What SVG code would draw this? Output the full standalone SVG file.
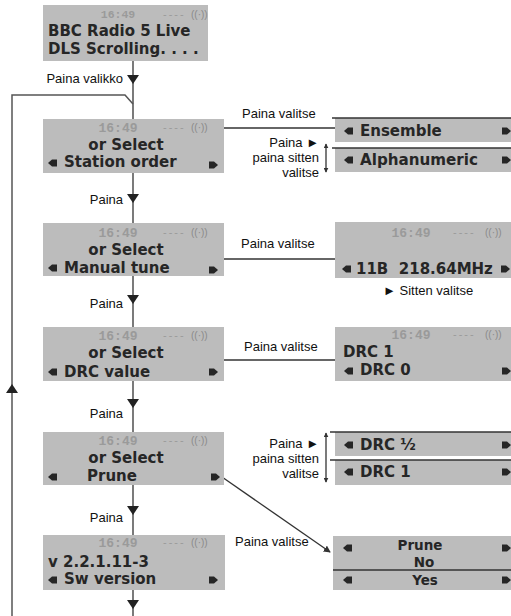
<svg xmlns="http://www.w3.org/2000/svg" width="511" height="616" viewBox="0 0 511 616">
<style>
.bx{fill:#bcbcbc}
.lcd{font-family:"DejaVu Sans",sans-serif;font-weight:bold;font-size:15px;fill:#262626}
.sm{font-size:13.5px}
.tm{font-family:"Liberation Mono",monospace;font-weight:bold;font-size:13px;fill:#9a9a9a;text-anchor:middle}
.ds{font-family:"Liberation Sans",sans-serif;font-size:11px;fill:#9a9a9a;letter-spacing:2px}
.ic{font-family:"Liberation Sans",sans-serif;font-size:10px;fill:#8a8a8a}
.lb{font-family:"Liberation Sans",Arial,sans-serif;font-size:13px;fill:#111}
.r{text-anchor:end}
.m{text-anchor:middle}
.ln{stroke:#333;stroke-width:1.3;fill:none}
.bd{stroke:#333;stroke-width:1.6;fill:none}
.ah{fill:#222}
</style>
<defs>
<path id="la" d="M0 0 L4 -3.5 H9 V3.5 H4 Z" fill="#262626"/>
<path id="ra" d="M0 0 L-4 -3.5 H-9 V3.5 H-4 Z" fill="#262626"/>
<marker id="tip" viewBox="0 0 8 8" refX="7" refY="4" markerWidth="7" markerHeight="7" orient="auto-start-reverse" markerUnits="userSpaceOnUse">
<path d="M0 0 L8 4 L0 8 Z" fill="#333"/>
</marker>
<marker id="sm" viewBox="0 0 8 8" refX="7" refY="4" markerWidth="5" markerHeight="5" orient="auto-start-reverse" markerUnits="userSpaceOnUse">
<path d="M0 0 L8 4 L0 8 Z" fill="#333"/>
</marker>
</defs>

<g id="connectors">
<path class="ln" d="M133 61 V616"/>
<path d="M12 616 V95 H125 L133 104" fill="none" stroke="#555" stroke-width="1.5"/>
<path class="ah" d="M127 75 H139 L133 84 Z"/>
<path class="ah" d="M127 194 H139 L133 203 Z"/>
<path class="ah" d="M127 295 H139 L133 304 Z"/>
<path class="ah" d="M127 399 H139 L133 408 Z"/>
<path class="ah" d="M127 506 H139 L133 515 Z"/>
<path class="ah" d="M127 600 H139 L133 609 Z"/>
<path class="ah" d="M6 393 H18 L12 384 Z"/>
<path class="ln" d="M224 128 H335"/>
<path class="ln" d="M224 259 H335"/>
<path class="ln" d="M224 360 H335"/>
<path class="ln" d="M222 477 L330 552" marker-end="url(#tip)"/>
<path class="ln" d="M326 144 V172" marker-start="url(#sm)" marker-end="url(#sm)"/>
<path class="ln" d="M326 433 V482" marker-start="url(#sm)" marker-end="url(#sm)"/>
<text class="lb r" x="123" y="83">Paina valikko</text>
<text class="lb r" x="123" y="204">Paina</text>
<text class="lb r" x="123" y="308">Paina</text>
<text class="lb r" x="123" y="418">Paina</text>
<text class="lb r" x="123" y="522">Paina</text>
<text class="lb" x="242" y="118">Paina valitse</text>
<text class="lb" x="241" y="248">Paina valitse</text>
<text class="lb" x="244" y="351">Paina valitse</text>
<text class="lb" x="235" y="546">Paina valitse</text>
<text class="lb r" x="319" y="147">Paina ►</text>
<text class="lb r" x="319" y="162">paina sitten</text>
<text class="lb r" x="319" y="177">valitse</text>
<text class="lb r" x="319" y="448">Paina ►</text>
<text class="lb r" x="319" y="463">paina sitten</text>
<text class="lb r" x="319" y="478">valitse</text>
<text class="lb" x="383" y="295">► Sitten valitse</text>
</g>

<g id="n1">
<rect class="bx" x="43" y="5" width="165" height="56"/>
<text class="tm" x="118" y="18" style="font-size:11.5px">16:49</text>
<text class="ds" x="163" y="18">----</text>
<text class="ic" x="191" y="18">((·))</text>
<text class="lcd" x="48" y="36">BBC Radio 5 Live</text>
<text class="lcd" x="48" y="54">DLS Scrolling. . . .</text>
</g>

<g id="n2">
<rect class="bx" x="43" y="119" width="181" height="54"/>
<text class="tm" x="118" y="132">16:49</text>
<text class="ds" x="163" y="131">----</text>
<text class="ic" x="191" y="131">((·))</text>
<text class="lcd m" x="126" y="150">or Select</text>
<use href="#la" x="48" y="163"/>
<text class="lcd" x="64" y="167">Station order</text>
<use href="#ra" x="218" y="165"/>
</g>

<g id="n3">
<rect class="bx" x="43" y="223" width="181" height="53"/>
<text class="tm" x="118" y="237">16:49</text>
<text class="ds" x="163" y="236">----</text>
<text class="ic" x="191" y="236">((·))</text>
<text class="lcd m" x="126" y="255">or Select</text>
<use href="#la" x="48" y="268"/>
<text class="lcd" x="64" y="273">Manual tune</text>
<use href="#ra" x="218" y="270"/>
</g>

<g id="n4">
<rect class="bx" x="43" y="327" width="181" height="54"/>
<text class="tm" x="118" y="340">16:49</text>
<text class="ds" x="163" y="339">----</text>
<text class="ic" x="191" y="339">((·))</text>
<text class="lcd m" x="126" y="358">or Select</text>
<use href="#la" x="48" y="372"/>
<text class="lcd" x="64" y="377">DRC value</text>
<use href="#ra" x="218" y="372"/>
</g>

<g id="n5">
<rect class="bx" x="43" y="432" width="181" height="53"/>
<text class="tm" x="118" y="445">16:49</text>
<text class="ds" x="163" y="444">----</text>
<text class="ic" x="191" y="444">((·))</text>
<text class="lcd m" x="126" y="463">or Select</text>
<use href="#la" x="48" y="477"/>
<text class="lcd" x="87" y="481">Prune</text>
<use href="#ra" x="220" y="477"/>
</g>

<g id="n6">
<rect class="bx" x="43" y="535" width="182" height="55"/>
<text class="tm" x="118" y="547">16:49</text>
<text class="ds" x="163" y="546">----</text>
<text class="ic" x="191" y="546">((·))</text>
<text class="lcd" x="48" y="567">v 2.2.1.11-3</text>
<use href="#la" x="48" y="580"/>
<text class="lcd" x="64" y="584">Sw version</text>
<use href="#ra" x="218" y="580"/>
</g>

<g id="r1">
<rect class="bx" x="335" y="118" width="176" height="24"/>
<path class="bd" d="M332 118 H511"/>
<use href="#la" x="344" y="131"/>
<text class="lcd" x="360" y="136">Ensemble</text>
<use href="#ra" x="511" y="131"/>
</g>

<g id="r2">
<rect class="bx" x="335" y="148" width="176" height="24"/>
<path class="bd" d="M332 148 H511"/>
<use href="#la" x="344" y="160"/>
<text class="lcd" x="360" y="165" textLength="118" lengthAdjust="spacingAndGlyphs">Alphanumeric</text>
<use href="#ra" x="511" y="160"/>
</g>

<g id="r3">
<rect class="bx" x="335" y="222" width="176" height="56"/>
<text class="tm" x="411" y="237">16:49</text>
<text class="ds" x="453" y="236">----</text>
<text class="ic" x="485" y="236">((·))</text>
<use href="#la" x="342" y="269"/>
<text class="lcd" x="356" y="274" xml:space="preserve">11B  218.64MHz</text>
<use href="#ra" x="510" y="269"/>
</g>

<g id="r4">
<rect class="bx" x="335" y="327" width="176" height="54"/>
<text class="tm" x="411" y="339">16:49</text>
<text class="ds" x="453" y="338">----</text>
<text class="ic" x="485" y="338">((·))</text>
<text class="lcd" x="343" y="357">DRC 1</text>
<use href="#la" x="344" y="371"/>
<text class="lcd" x="360" y="375">DRC 0</text>
<use href="#ra" x="511" y="371"/>
</g>

<g id="r5">
<rect class="bx" x="335" y="432" width="176" height="24"/>
<path class="bd" d="M330 432 H511"/>
<use href="#la" x="344" y="445"/>
<text class="lcd" x="360" y="450">DRC ½</text>
<use href="#ra" x="511" y="445"/>
</g>

<g id="r6">
<rect class="bx" x="335" y="460" width="176" height="25"/>
<path class="bd" d="M330 460 H511"/>
<use href="#la" x="344" y="472"/>
<text class="lcd" x="360" y="477">DRC 1</text>
<use href="#ra" x="511" y="472"/>
</g>

<g id="r7">
<rect class="bx" x="333" y="536" width="178" height="54"/>
<path class="bd" d="M333 570 H511"/>
<use href="#la" x="343" y="548"/>
<text class="lcd sm m" x="420" y="550">Prune</text>
<text class="lcd sm m" x="424" y="567">No</text>
<use href="#ra" x="511" y="548"/>
<use href="#la" x="343" y="580"/>
<text class="lcd sm m" x="425" y="585">Yes</text>
<use href="#ra" x="511" y="580"/>
</g>
</svg>
